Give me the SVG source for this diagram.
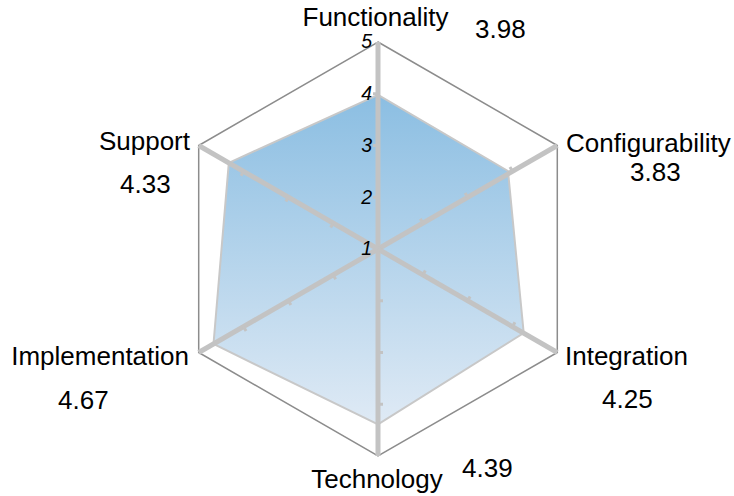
<svg xmlns="http://www.w3.org/2000/svg" width="734" height="496" viewBox="0 0 734 496">
<defs>
<linearGradient id="fillGrad" x1="0" y1="0" x2="0" y2="1">
<stop offset="0" stop-color="#8bbee2"/>
<stop offset="1" stop-color="#dfeaf5"/>
</linearGradient>
</defs>
<style>
.lbl{font-family:"Liberation Sans",Arial,sans-serif;font-size:26px;fill:#000}
.num{font-family:"Liberation Sans",Arial,sans-serif;font-size:19.5px;font-style:italic;fill:#000;text-anchor:end}
.axis{stroke:#c3c3c3;stroke-width:5;fill:none}
.tick{stroke:#c3c3c3;stroke-width:3;fill:none}
.grid{stroke:#8c8c8c;stroke-width:1.5;fill:none}
</style>
<rect width="734" height="496" fill="#fff"/>
<g id="grid">
<polygon class="grid" points="378,42 557.3,145.5 557.3,352.5 378,456 198.7,352.5 198.7,145.5"/>
</g>
<g id="data">
<polygon points="378,94.8 508,171 523.7,333 378,424.4 213.5,344 228.8,162.8" fill="url(#fillGrad)" stroke="#c8c8c8" stroke-width="2"/>
</g>
<g id="connectors">
<line class="axis" x1="378" y1="249" x2="378" y2="42"/>
<line class="axis" x1="378" y1="249" x2="557.3" y2="145.5"/>
<line class="axis" x1="378" y1="249" x2="557.3" y2="352.5"/>
<line class="axis" x1="378" y1="249" x2="378" y2="456"/>
<line class="axis" x1="378" y1="249" x2="198.7" y2="352.5"/>
<line class="axis" x1="378" y1="249" x2="198.7" y2="145.5"/>
<path class="tick" d="M378,197.25 l-5,0 M378,145.5 l-5,0 M378,93.75 l-5,0
M422.82,223.12 l-2.5,-4.33 M467.63,197.25 l-2.5,-4.33 M512.45,171.37 l-2.5,-4.33
M422.82,274.88 l2.5,-4.33 M467.63,300.75 l2.5,-4.33 M512.45,326.63 l2.5,-4.33
M378,300.75 l5,0 M378,352.5 l5,0 M378,404.25 l5,0
M333.18,274.88 l2.5,4.33 M288.37,300.75 l2.5,4.33 M243.55,326.63 l2.5,4.33
M333.18,223.12 l-2.5,4.33 M288.37,197.25 l-2.5,4.33 M243.55,171.37 l-2.5,4.33"/>
</g>
<g id="scale">
<text class="num" x="372" y="255">1</text>
<text class="num" x="372" y="204">2</text>
<text class="num" x="372" y="152">3</text>
<text class="num" x="372" y="100">4</text>
<text class="num" x="372" y="48">5</text>
</g>
<g id="node-functionality">
<text class="lbl" x="375.5" y="26" text-anchor="middle">Functionality</text>
<text class="lbl" x="475" y="38">3.98</text>
</g>
<g id="node-configurability">
<text class="lbl" x="566" y="152">Configurability</text>
<text class="lbl" x="630" y="181">3.83</text>
</g>
<g id="node-integration">
<text class="lbl" x="565" y="365">Integration</text>
<text class="lbl" x="602" y="408">4.25</text>
</g>
<g id="node-technology">
<text class="lbl" x="377" y="488" text-anchor="middle">Technology</text>
<text class="lbl" x="462" y="477">4.39</text>
</g>
<g id="node-implementation">
<text class="lbl" x="189" y="365" text-anchor="end">Implementation</text>
<text class="lbl" x="58" y="409">4.67</text>
</g>
<g id="node-support">
<text class="lbl" x="190" y="150" text-anchor="end">Support</text>
<text class="lbl" x="120" y="193">4.33</text>
</g>
</svg>
